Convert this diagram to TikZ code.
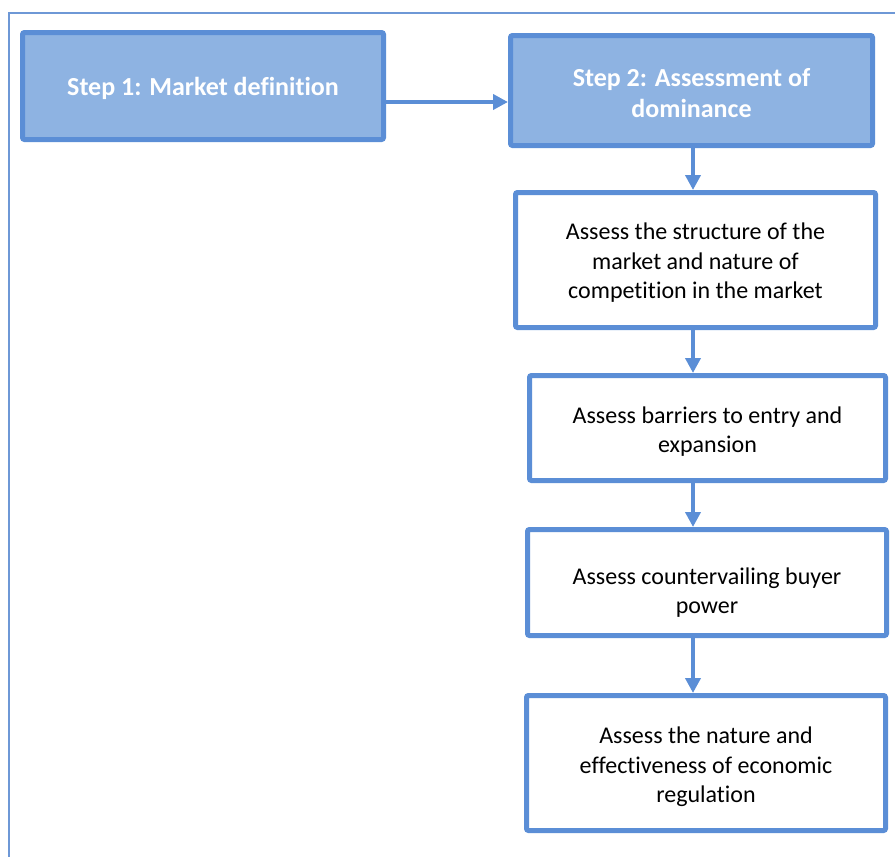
\documentclass[tikz,border=0pt]{standalone}
\usepackage{fontspec}
\setmainfont{Carlito}[Ligatures=NoCommon]
\usetikzlibrary{arrows.meta}
\definecolor{bordblue}{RGB}{91,142,214}
\definecolor{fillblue}{RGB}{142,179,226}
\definecolor{frameblue}{RGB}{110,152,214}
\begin{document}
\begin{tikzpicture}[x=1pt,y=-1pt,
  stepbox/.style={draw=bordblue, line width=5pt, fill=fillblue, rounded corners=2pt, inner sep=0pt},
  taskbox/.style={draw=bordblue, line width=5pt, fill=white, rounded corners=2pt, inner sep=0pt},
  steptext/.style={text=white, font=\fontsize{26}{31}\selectfont\bfseries, align=center, inner sep=0pt},
  tasktext/.style={text=black, font=\fontsize{24}{29.5}\selectfont, align=center, inner sep=0pt},
  arr/.style={draw=bordblue, line width=4pt, -{Triangle[length=15pt,width=15pt]}}]
\useasboundingbox (0,0) rectangle (895,857);
\draw[frameblue, line width=1.5pt] (9,857) -- (9,13) -- (895,13);
\node[stepbox, minimum width=361pt, minimum height=107pt] (s1) at (203,86) {};
\node[stepbox, minimum width=362pt, minimum height=110pt] (s2) at (691.5,90.5) {};
\node[taskbox, minimum width=360pt, minimum height=135pt] (b3) at (695.5,260) {};
\node[taskbox, minimum width=356pt, minimum height=105pt] (b4) at (707.5,428) {};
\node[taskbox, minimum width=359pt, minimum height=106pt] (b5) at (707,582.5) {};
\node[taskbox, minimum width=359pt, minimum height=135pt] (b6) at (706,763) {};
\node[steptext] (t1) at ([yshift=-2pt]s1.center) {Step 1: Market definition};
\node[steptext] (t2) at ([yshift=-2.5pt]s2.center) {Step 2: Assessment of\\dominance};
\node[tasktext] (t3) at ([yshift=-3pt]b3.center) {Assess the structure of the\\market and nature of\\competition in the market};
\node[tasktext] (t4) at ([yshift=-3.5pt]b4.center) {Assess barriers to entry and\\expansion};
\node[tasktext] (t5) at ([yshift=-10pt]b5.center) {Assess countervailing buyer\\power};
\node[tasktext] (t6) at ([yshift=-4pt]b6.center) {Assess the nature and\\effectiveness of economic\\regulation};
\coordinate (ax) at (693,0);
\coordinate (ay) at (0,102);
\draw[arr] (s1.east |- ay) -- (s2.west |- ay);
\draw[arr] (s2.south -| ax) -- (b3.north -| ax);
\draw[arr] (b3.south -| ax) -- (b4.north -| ax);
\draw[arr] (b4.south -| ax) -- (b5.north -| ax);
\draw[arr] (b5.south -| ax) -- (b6.north -| ax);
\end{tikzpicture}
\end{document}
